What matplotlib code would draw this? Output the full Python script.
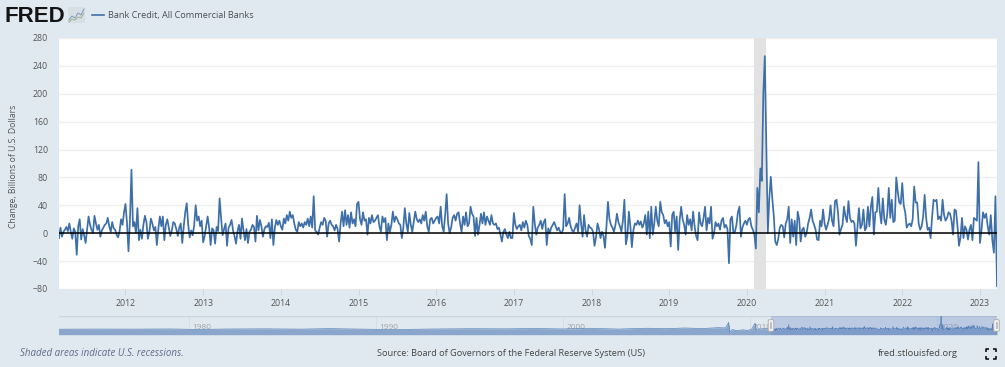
import numpy as np
import matplotlib
matplotlib.use('Agg')
import matplotlib.pyplot as plt
from matplotlib.patches import FancyBboxPatch

plt.rcParams['font.family'] = ['Open Sans', 'DejaVu Sans']

W, H = 1005, 367
BG = '#e1e9f0'
LINE = '#3e6fa8'

# weekly change, billions of dollars
v2011 = [-7,8,-5,2,5,9,3,14,2,-8,7,2,-31,10,20,-9,6,-3,-14,5,24,12,5,0,25,14,5,12,-5,4,8,12,14,22,10,2,16,7,5,-2,-6,3,20,12,30]
v2012 = [42,15,-26,20,91,10,16,0,36,-10,5,-8,12,25,16,-8,2,21,14,4,9,-17,6,24,10,24,-10,12,20,8,-4,4,16,14,6,-4,8,14,-14,10,30,43,12,-6,4,-3,12,40,18,24,10,18]
v2013 = [-13,-4,10,24,8,-17,7,4,-15,9,3,50,22,-3,6,14,-18,8,12,19,4,-4,-15,3,12,-8,21,4,-10,6,-14,2,5,12,9,-12,25,4,19,10,-5,6,10,9,15,-7,20,-17,8,19,12,18]
v2014 = [10,5,21,14,26,18,31,22,26,14,5,2,16,10,14,8,16,12,21,10,24,8,53,4,2,-2,8,16,12,22,18,-5,14,18,12,10,4,12,6,-12,14,31,10,33,12,26,8,30,14,20,10,42]
v2015 = [45,20,12,30,18,20,-2,22,14,26,16,18,22,26,10,2,24,16,22,-10,14,2,12,31,16,24,20,14,12,-7,8,36,14,2,29,12,2,16,31,20,16,20,14,26,18,31,10,2,20,22,14,18]
v2016 = [22,24,14,38,10,2,26,56,14,0,8,22,26,18,28,30,14,2,24,12,30,10,14,38,28,24,-4,22,-2,12,28,14,30,12,24,18,12,26,14,12,14,6,8,-2,-12,2,6,-2,-7,2,-7,-7]
v2017 = [29,12,6,10,12,4,16,8,18,12,-4,-8,-17,38,14,-2,8,12,18,6,16,20,-17,7,0,8,12,16,10,4,8,2,0,6,56,10,14,22,10,4,2,8,14,2,40,14,-5,26,4,-5,12,8]
v2018 = [7,2,-18,-6,14,6,-7,2,-4,-21,10,45,20,12,8,2,12,28,16,10,2,18,48,-16,-4,31,10,-20,4,14,12,18,12,17,8,14,26,-2,31,-7,38,-2,14,38,18,10,45,30,26,14,19,10]
v2019 = [16,-19,26,31,2,24,-24,19,38,20,12,-2,26,12,20,4,31,10,-4,-10,30,14,10,22,38,4,22,14,38,-8,0,16,10,14,5,18,22,8,12,6,-43,20,24,0,2,12,30,38,-5,8,14,18]
v2020 = [12,20,22,10,5,-2,-22,65,30,93,75,200,254,130,0,50,81,50,25,-12,-17,-8,8,12,10,-6,14,20,38,-14,20,-5,18,-17,31,20,-12,5,8,-5,0,14,22,34,18,12,5,-9,-10,18,10,34]
v2021 = [14,5,12,20,40,18,10,46,48,30,-2,6,12,38,24,16,46,22,16,18,14,-18,8,36,7,12,34,4,8,38,10,38,52,-2,30,31,65,31,14,50,20,12,28,65,22,48,16,18,80,60,44,42]
v2022 = [72,40,30,8,12,14,10,20,67,44,44,14,5,10,24,55,22,5,8,-7,24,48,46,48,20,24,18,48,26,18,22,30,28,18,-2,34,32,10,-18,-6,22,-7,10,5,-9,5,12,-10,22,20,18,102]
v2023 = [-14,4,30,22,28,10,-2,26,-10,-28,53,-76]
year_lists = [v2011,v2012,v2013,v2014,v2015,v2016,v2017,v2018,v2019,v2020,v2021,v2022,v2023]
first_year = 2011

# long history in the range selector up to 2011
nav_years = [1973,1975,1977,1979,1980.5,1982,1984,1986,1987.5,1989,1991,1993,1995,1997,1998.5,2000,2001.5,2003,2004.5,2005.5,2006.5,2007.5,2008.3,2008.7,2008.86,2008.93,2009.05,2009.3,2009.6,2009.9,2010.1,2010.28,2010.34,2010.5,2010.8,2011.1]
nav_values = [2,4,3,6,-2,5,8,3,12,4,-4,5,10,8,14,6,16,4,20,12,24,15,30,25,128,-55,-5,-25,-10,-20,5,113,-15,5,12,8]

tick_years = list(range(2012, 2024))
y_ticks = list(range(-80, 281, 40))
recession = (2020.09, 2020.25)
xlim = (2011.144, 2023.22)
nav_xlim = (1973.04, 2023.22)
nav_label_years = [1980, 1990, 2000, 2010, 2020]

xs, ys = [], []
for i, vals in enumerate(year_lists):
    yr = first_year + i
    if yr == 2011:
        x = np.linspace(xlim[0], 2012, len(vals), endpoint=False)
    elif yr == 2023:
        x = np.linspace(2023, xlim[1], len(vals))
    else:
        x = np.linspace(yr, yr + 1, len(vals), endpoint=False)
    xs.extend(x)
    ys.extend(vals)


def px_axes(fig, x0, y0, x1, y1):
    return fig.add_axes([x0 / W, 1 - y1 / H, (x1 - x0) / W, (y1 - y0) / H])


fig = plt.figure(figsize=(W / 100, H / 100), dpi=100, facecolor=BG)

# main chart
ax = px_axes(fig, 59, 38, 997, 289)
ax.set_facecolor('white')
ax.axvspan(recession[0], recession[1], color='#e2e2e2', lw=0, zorder=1)
ax.plot(xs, ys, color=LINE, lw=1.25, zorder=3, solid_joinstyle='round')
ax.axhline(0, color='black', lw=1.1, zorder=4)
ax.set_xlim(xlim)
ax.set_ylim(-80, 280)
ax.set_yticks(y_ticks)
ax.set_xticks(tick_years)
ax.grid(axis='y', color='#efefef', lw=1.0, zorder=0)
ax.set_axisbelow(True)
for s in ax.spines.values():
    s.set_visible(False)
ax.tick_params(axis='y', length=0, pad=8, labelsize=6.3, labelcolor='#555555')
ax.tick_params(axis='x', length=4, width=0.7, color='#ccd6eb', pad=3, labelsize=6.3, labelcolor='#555555')
ax.set_ylabel('Change, Billions of U.S. Dollars', fontsize=6.2, color='#555555', labelpad=9)
ax.yaxis.set_label_coords(-41 / 938, 0.49)

# range selector
nav = px_axes(fig, 59, 315.5, 997, 334.7)
nav.set_facecolor('none')
nav_x = np.concatenate([nav_years, xs])
nav_y = np.concatenate([nav_values, ys])
for yr in nav_label_years:
    nav.axvline(yr, color='#d5dee7', lw=0.7, zorder=0)
    nav.text(yr + 0.68, 30, str(yr), ha='center', va='center', fontsize=6, color='#a0a4a8', zorder=1)
nav.fill_between(nav_x, -100, nav_y, color='#8ba6cd', lw=0, zorder=2)
nav.plot(nav_x, nav_y, color='#4f7db3', lw=0.45, zorder=3)
nav.axvspan(xlim[0], xlim[1], color='#6685c2', alpha=0.3, lw=0, zorder=4)
nav.axhline(255, color='#ccd5de', lw=1.0, zorder=0)
nav.set_xlim(nav_xlim)
nav.set_ylim(-100, 255)
nav.set_xticks([])
nav.set_yticks([])
for s in nav.spines.values():
    s.set_visible(False)

# overlay in pixel coordinates for header, footer and small furniture
over = fig.add_axes([0, 0, 1, 1], facecolor='none')
over.set_xlim(0, W)
over.set_ylim(H, 0)
over.axis('off')

over.text(4, 16, 'FRED', family='Liberation Sans', weight='bold', fontsize=16, color='#141414', va='center', ha='left')
over.add_patch(plt.Rectangle((68, 7), 17, 16, color='#d8dfe4', lw=0))
over.plot([69, 72, 75, 78, 81, 84], [20, 16, 18, 13, 15, 9], color='#7d9bbd', lw=0.7)
over.plot([69, 72, 75, 78, 81, 84], [22, 19, 20, 17, 18, 13], color='#9db58a', lw=0.7)

over.plot([92, 104], [15, 15], color=LINE, lw=1.2)
over.text(107.5, 15.5, 'Bank Credit, All Commercial Banks', fontsize=6.6, color='#4a4f55', va='center', ha='left')

over.text(20, 353, 'Shaded areas indicate U.S. recessions.', fontsize=7.0, style='italic', color='#5f6b8c', va='center', ha='left')
over.text(377, 353, 'Source: Board of Governors of the Federal Reserve System (US)', fontsize=6.6, color='#444444', va='center', ha='left')
over.text(878, 353, 'fred.stlouisfed.org', fontsize=6.75, color='#444444', va='center', ha='left')

# selector handles
for hx in (771, 996.5):
    over.add_patch(FancyBboxPatch((hx - 2.5, 320), 5, 11, boxstyle='round,pad=0.3,rounding_size=1.2',
                                  fc='#f0f0f0', ec='#a8a8a8', lw=0.6, zorder=6))
    over.plot([hx, hx], [323, 328], color='#b5b5b5', lw=1.2, zorder=7)

# fullscreen icon
for cx, cy, dx, dy in [(986, 349, 1, 1), (996, 349, -1, 1), (986, 358.5, 1, -1), (996, 358.5, -1, -1)]:
    over.plot([cx + 3 * dx, cx, cx], [cy, cy, cy + 3 * dy], color='black', lw=1.1, solid_capstyle='butt')

fig.savefig('out.png', dpi=100, facecolor=BG)
